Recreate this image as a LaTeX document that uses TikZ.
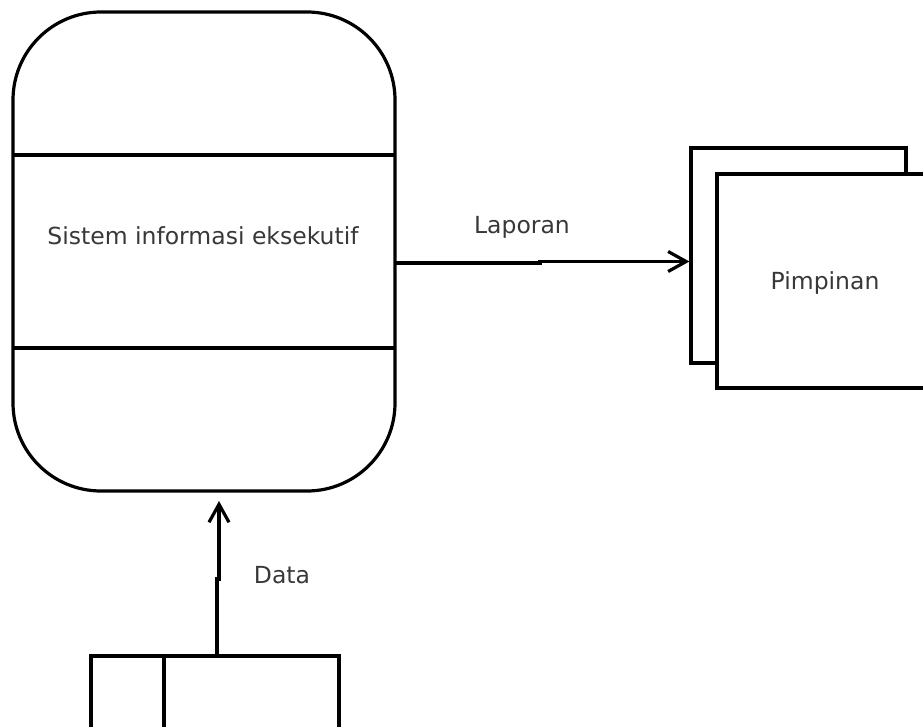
\documentclass[tikz,border=0pt]{standalone}
\usepackage{fontspec}
\setmainfont{DejaVu Sans}
\usetikzlibrary{arrows.meta}
\begin{document}
\begin{tikzpicture}[x=1pt,y=-1pt,
  line width=3.2pt,
  lbl/.style={font=\fontsize{23.5}{28}\selectfont, text=black!78, inner sep=0pt, anchor=base},
  flow/.style={-{Straight Barb[length=18pt,width=20pt,line width=3.2pt]}},
  ]
\useasboundingbox (0,0) rectangle (923,727);
\clip (0,0) rectangle (923,727);
% main process shape
\draw[rounded corners=88pt] (13,12) rectangle (395,491);
\node[inner sep=0pt, minimum width=382pt, minimum height=479pt] (proc) at (204,251.5) {};
\draw (13,155) -- (395,155);
\draw (13,348) -- (395,348);
\node[lbl] (t1) at (203,244) {Sistem informasi eksekutif};
% Pimpinan boxes
\draw[fill=white] (691,148) rectangle (906,363);
\draw[fill=white] (717,174) rectangle (935,388);
\node[inner sep=0pt, minimum width=215pt, minimum height=215pt] (pimp) at (798.5,255.5) {};
\node[lbl] (t2) at (825,289) {Pimpinan};
% data store
\draw (91,740) -- (91,656) -- (339,656) -- (339,740);
\draw (164,656) -- (164,740);
\coordinate (ds) at (217,654);
% connectors
\coordinate (a1) at (395,263);
\draw[flow] (a1) -- (540,263) -- (540,261.5) -- (pimp.west |- 0,261.5);
\node[lbl] (l1) at (522,234) {Laporan};
\draw[flow] (ds) -- (217,579) -- (219,579) -- (219,501);
\node[lbl] (l2) at (282,583) {Data};
\end{tikzpicture}
\end{document}
